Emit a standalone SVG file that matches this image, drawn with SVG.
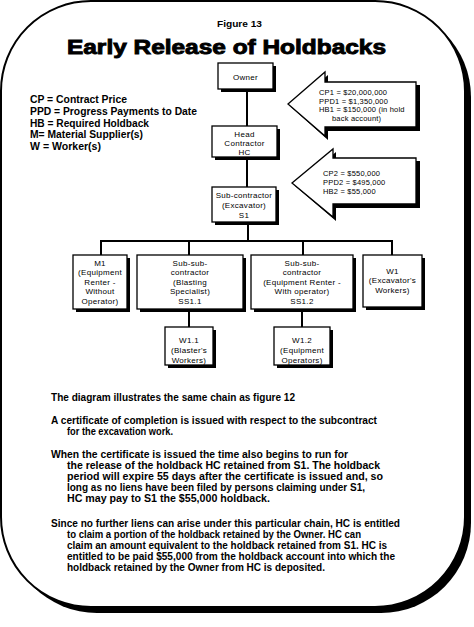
<svg xmlns="http://www.w3.org/2000/svg" width="474" height="627" viewBox="0 0 474 627">
<defs>
<style>
.bg{fill:#fff}
.frame{fill:#fff;stroke:#000;stroke-width:2}
.frameShadow{fill:#000}
.box{fill:#fff;stroke:#000;stroke-width:1.3}
.shadow{fill:#000}
.conn{stroke:#000;stroke-width:2;fill:none}
.nt{font-family:"Liberation Sans",Arial,sans-serif;font-size:8px;fill:#000;text-anchor:middle;letter-spacing:0.3px}
.ct{font-family:"Liberation Sans",Arial,sans-serif;font-size:7.5px;fill:#000;letter-spacing:0.2px}
.lg{font-family:"Liberation Sans",Arial,sans-serif;font-size:11.5px;font-weight:bold;fill:#000}
.bt{font-family:"Liberation Sans",Arial,sans-serif;font-size:11px;font-weight:bold;fill:#000}
</style>
</defs>
<rect class="bg" x="0" y="0" width="474" height="627"/>
<g id="frame">
<rect class="frameShadow" x="7" y="7" width="464" height="606" rx="90" ry="90"/>
<rect class="frame" x="1" y="1" width="464" height="606" rx="90" ry="90"/>
</g>
<g id="titles">
<text x="217" y="27" textLength="45" lengthAdjust="spacingAndGlyphs" style="font-family:'Liberation Sans',Arial,sans-serif;font-size:9px;font-weight:bold">Figure 13</text>
<text x="67" y="54" textLength="319" lengthAdjust="spacingAndGlyphs" style="font-family:'Liberation Sans',Arial,sans-serif;font-size:20px;font-weight:bold;stroke:#000;stroke-width:0.9">Early Release of Holdbacks</text>
</g>
<g id="legend">
<text class="lg" x="30" y="103" textLength="97" lengthAdjust="spacingAndGlyphs">CP = Contract Price</text>
<text class="lg" x="30" y="115" textLength="167" lengthAdjust="spacingAndGlyphs">PPD = Progress Payments to Date</text>
<text class="lg" x="30" y="126.5" textLength="119" lengthAdjust="spacingAndGlyphs">HB = Required Holdback</text>
<text class="lg" x="30" y="138" textLength="113" lengthAdjust="spacingAndGlyphs">M= Material Supplier(s)</text>
<text class="lg" x="30" y="149.5" textLength="71" lengthAdjust="spacingAndGlyphs">W = Worker(s)</text>
</g>
<g id="connectors">
<line class="conn" x1="247" y1="89" x2="247" y2="126"/>
<line class="conn" x1="247" y1="157" x2="247" y2="187"/>
<line class="conn" x1="248" y1="222" x2="248" y2="241"/>
<line class="conn" x1="100" y1="241" x2="393" y2="241"/>
<line class="conn" x1="101" y1="241" x2="101" y2="255"/>
<line class="conn" x1="189" y1="241" x2="189" y2="255"/>
<line class="conn" x1="303" y1="241" x2="303" y2="255"/>
<line class="conn" x1="392" y1="241" x2="392" y2="255"/>
<line class="conn" x1="189" y1="309" x2="189" y2="327"/>
<line class="conn" x1="302" y1="309" x2="302" y2="327"/>
</g>
<g id="callout1">
<polygon class="shadow" points="291,107 328,75 328,85 420,85 420,131 328,131 328,140"/>
<polygon class="box" points="288,104 325,72 325,82 416,82 416,127 325,127 325,136"/>
<text class="ct" x="319" y="95">CP1 = $20,000,000</text>
<text class="ct" x="319" y="103.5">PPD1 = $1,350,000</text>
<text class="ct" x="319" y="112">HB1 = $150,000 (in hold</text>
<text class="ct" x="332" y="121">back account)</text>
</g>
<g id="callout2">
<polygon class="shadow" points="295,186 336,152 336,161 420,161 420,208 336,208 336,221"/>
<polygon class="box" points="292,183 333,149 333,158 416,158 416,204 333,204 333,217"/>
<text class="ct" x="323" y="176">CP2 = $550,000</text>
<text class="ct" x="323" y="185">PPD2 = $495,000</text>
<text class="ct" x="323" y="194">HB2 = $55,000</text>
</g>
<g id="owner">
<rect class="shadow" x="221" y="66" width="55" height="26"/>
<rect class="box" x="218" y="63" width="55" height="26"/>
<text class="nt" x="245.5" y="80">Owner</text>
</g>
<g id="hc">
<rect class="shadow" x="215" y="129" width="65" height="31"/>
<rect class="box" x="212" y="126" width="65" height="31"/>
<text class="nt" x="244.5" y="137">Head</text>
<text class="nt" x="244.5" y="146">Contractor</text>
<text class="nt" x="244.5" y="155">HC</text>
</g>
<g id="s1">
<rect class="shadow" x="215" y="190" width="64" height="35"/>
<rect class="box" x="212" y="187" width="64" height="35"/>
<text class="nt" x="244" y="198">Sub-contractor</text>
<text class="nt" x="244" y="208">(Excavator)</text>
<text class="nt" x="244" y="218">S1</text>
</g>
<g id="m1">
<rect class="shadow" x="76" y="258" width="54" height="54"/>
<rect class="box" x="73" y="255" width="54" height="54"/>
<text class="nt" x="100" y="265.5">M1</text>
<text class="nt" x="100" y="275">(Equipment</text>
<text class="nt" x="100" y="284.5">Renter -</text>
<text class="nt" x="100" y="294">Without</text>
<text class="nt" x="100" y="303.5">Operator)</text>
</g>
<g id="ss11">
<rect class="shadow" x="140" y="258" width="106" height="54"/>
<rect class="box" x="137" y="255" width="106" height="54"/>
<text class="nt" x="190" y="265.5">Sub-sub-</text>
<text class="nt" x="190" y="275">contractor</text>
<text class="nt" x="190" y="284.5">(Blasting</text>
<text class="nt" x="190" y="294">Specialist)</text>
<text class="nt" x="190" y="303.5">SS1.1</text>
</g>
<g id="ss12">
<rect class="shadow" x="254" y="258" width="102" height="54"/>
<rect class="box" x="251" y="255" width="102" height="54"/>
<text class="nt" x="302" y="265.5">Sub-sub-</text>
<text class="nt" x="302" y="275">contractor</text>
<text class="nt" x="302" y="284.5">(Equipment Renter -</text>
<text class="nt" x="302" y="294">With operator)</text>
<text class="nt" x="302" y="303.5">SS1.2</text>
</g>
<g id="w1">
<rect class="shadow" x="366" y="258" width="59" height="52"/>
<rect class="box" x="363" y="255" width="59" height="52"/>
<text class="nt" x="392.5" y="273.5">W1</text>
<text class="nt" x="392.5" y="283">(Excavator's</text>
<text class="nt" x="392.5" y="292.5">Workers)</text>
</g>
<g id="w11">
<rect class="shadow" x="168" y="330" width="48" height="38"/>
<rect class="box" x="165" y="327" width="48" height="38"/>
<text class="nt" x="189" y="342.5">W1.1</text>
<text class="nt" x="189" y="352.5">(Blaster's</text>
<text class="nt" x="189" y="362.5">Workers)</text>
</g>
<g id="w12">
<rect class="shadow" x="277" y="330" width="56" height="38"/>
<rect class="box" x="274" y="327" width="56" height="38"/>
<text class="nt" x="302" y="342.5">W1.2</text>
<text class="nt" x="302" y="352.5">(Equipment</text>
<text class="nt" x="302" y="362.5">Operators)</text>
</g>
<g id="body">
<text class="bt" x="51" y="401" textLength="244" lengthAdjust="spacingAndGlyphs">The diagram illustrates the same chain as figure 12</text>
<text class="bt" x="51" y="424" textLength="326" lengthAdjust="spacingAndGlyphs">A certificate of completion is issued with respect to the subcontract</text>
<text class="bt" x="67" y="435" textLength="106" lengthAdjust="spacingAndGlyphs">for the excavation work.</text>
<text class="bt" x="51" y="457.5" textLength="297" lengthAdjust="spacingAndGlyphs">When the certificate is issued the time also begins to run for</text>
<text class="bt" x="67" y="468.5" textLength="313" lengthAdjust="spacingAndGlyphs">the release of the holdback HC retained from S1.  The holdback</text>
<text class="bt" x="67" y="479.5" textLength="316" lengthAdjust="spacingAndGlyphs">period will expire 55 days after the certificate is issued and, so</text>
<text class="bt" x="67" y="490.5" textLength="298" lengthAdjust="spacingAndGlyphs">long as no liens have been filed by persons claiming under S1,</text>
<text class="bt" x="67" y="501.5" textLength="203" lengthAdjust="spacingAndGlyphs">HC may pay to S1 the $55,000 holdback.</text>
<text class="bt" x="51" y="527" textLength="349" lengthAdjust="spacingAndGlyphs">Since no further liens can arise under this particular chain, HC is entitled</text>
<text class="bt" x="67" y="538" textLength="294" lengthAdjust="spacingAndGlyphs">to claim a portion of the holdback retained by the Owner.  HC can</text>
<text class="bt" x="67" y="548.5" textLength="320" lengthAdjust="spacingAndGlyphs">claim an amount equivalent to the holdback retained from S1.  HC is</text>
<text class="bt" x="67" y="559.5" textLength="328" lengthAdjust="spacingAndGlyphs">entitled to be paid $55,000 from the holdback account into which the</text>
<text class="bt" x="67" y="570.5" textLength="258" lengthAdjust="spacingAndGlyphs">holdback retained by the Owner from HC is deposited.</text>
</g>
</svg>
